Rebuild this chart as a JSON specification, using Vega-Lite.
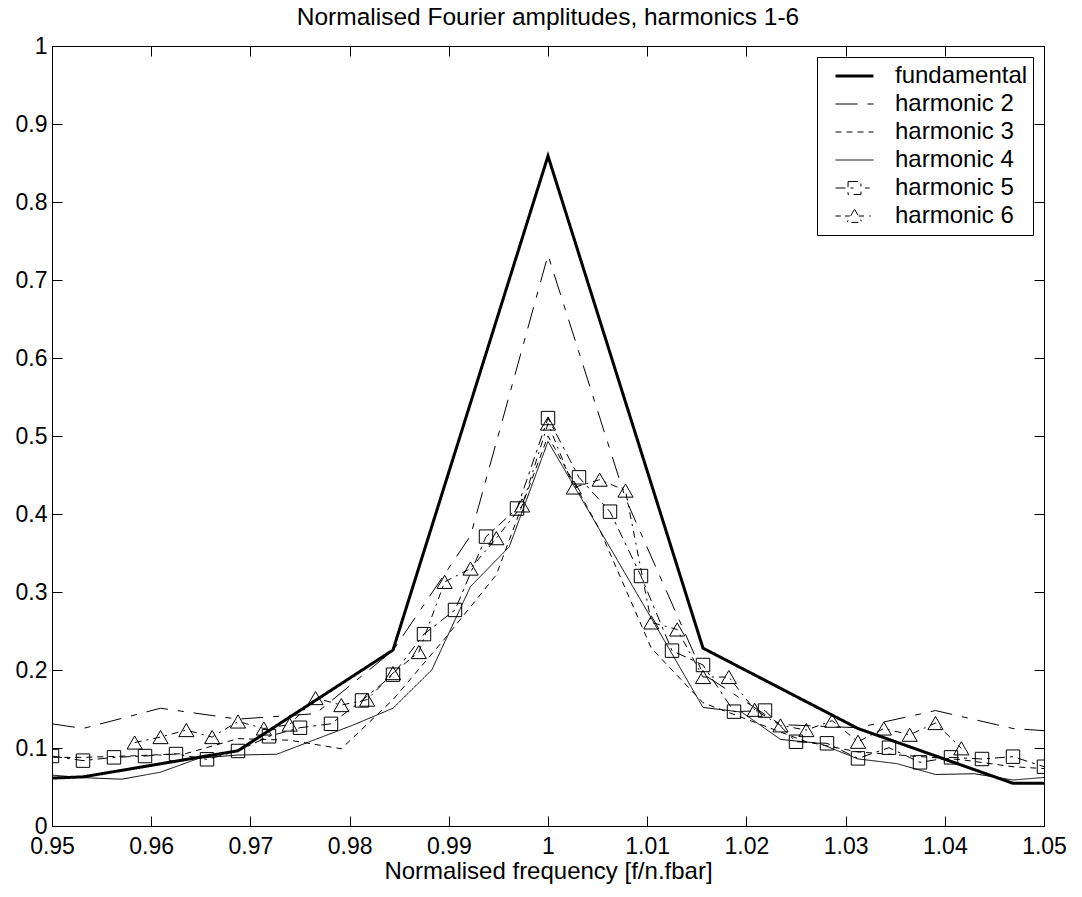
{
  "$schema": "https://vega.github.io/schema/vega-lite/v6.json",
  "width": 992,
  "height": 780,
  "autosize": {"type": "none"},
  "padding": {"left": 52, "top": 46, "right": 38, "bottom": 71},
  "background": "white",
  "title": {"text": "Normalised Fourier amplitudes, harmonics 1-6", "font": "Liberation Sans", "fontSize": 24.5, "fontWeight": "normal", "color": "black", "offset": 5, "anchor": "middle"},
  "data": {"values": [
    {"s": "fundamental", "f": 0.9375, "a": 0.055},
    {"s": "fundamental", "f": 0.953125, "a": 0.063},
    {"s": "fundamental", "f": 0.96875, "a": 0.0965},
    {"s": "fundamental", "f": 0.984375, "a": 0.2256},
    {"s": "fundamental", "f": 1.0, "a": 0.859},
    {"s": "fundamental", "f": 1.015625, "a": 0.228},
    {"s": "fundamental", "f": 1.03125, "a": 0.125},
    {"s": "fundamental", "f": 1.046875, "a": 0.0547},
    {"s": "fundamental", "f": 1.0625, "a": 0.055},

    {"s": "harmonic 2", "f": 0.9453125, "a": 0.14},
    {"s": "harmonic 2", "f": 0.953125, "a": 0.125},
    {"s": "harmonic 2", "f": 0.9609375, "a": 0.151},
    {"s": "harmonic 2", "f": 0.96875, "a": 0.137},
    {"s": "harmonic 2", "f": 0.9765625, "a": 0.144},
    {"s": "harmonic 2", "f": 0.984375, "a": 0.225},
    {"s": "harmonic 2", "f": 0.9921875, "a": 0.372},
    {"s": "harmonic 2", "f": 1.0, "a": 0.732},
    {"s": "harmonic 2", "f": 1.0078125, "a": 0.42},
    {"s": "harmonic 2", "f": 1.015625, "a": 0.195},
    {"s": "harmonic 2", "f": 1.0234375, "a": 0.13},
    {"s": "harmonic 2", "f": 1.03125, "a": 0.126},
    {"s": "harmonic 2", "f": 1.0390625, "a": 0.148},
    {"s": "harmonic 2", "f": 1.046875, "a": 0.125},
    {"s": "harmonic 2", "f": 1.0546875, "a": 0.118},

    {"s": "harmonic 3", "f": 0.947917, "a": 0.088},
    {"s": "harmonic 3", "f": 0.953125, "a": 0.088},
    {"s": "harmonic 3", "f": 0.958333, "a": 0.09},
    {"s": "harmonic 3", "f": 0.963542, "a": 0.093},
    {"s": "harmonic 3", "f": 0.96875, "a": 0.112},
    {"s": "harmonic 3", "f": 0.973958, "a": 0.11},
    {"s": "harmonic 3", "f": 0.979167, "a": 0.099},
    {"s": "harmonic 3", "f": 0.984375, "a": 0.162},
    {"s": "harmonic 3", "f": 0.989583, "a": 0.24},
    {"s": "harmonic 3", "f": 0.994792, "a": 0.322},
    {"s": "harmonic 3", "f": 1.0, "a": 0.5},
    {"s": "harmonic 3", "f": 1.005208, "a": 0.38},
    {"s": "harmonic 3", "f": 1.010417, "a": 0.228},
    {"s": "harmonic 3", "f": 1.015625, "a": 0.158},
    {"s": "harmonic 3", "f": 1.020833, "a": 0.133},
    {"s": "harmonic 3", "f": 1.026042, "a": 0.108},
    {"s": "harmonic 3", "f": 1.03125, "a": 0.095},
    {"s": "harmonic 3", "f": 1.036458, "a": 0.09},
    {"s": "harmonic 3", "f": 1.041667, "a": 0.085},
    {"s": "harmonic 3", "f": 1.046875, "a": 0.076},
    {"s": "harmonic 3", "f": 1.052083, "a": 0.072},

    {"s": "harmonic 4", "f": 0.94921875, "a": 0.066},
    {"s": "harmonic 4", "f": 0.953125, "a": 0.062},
    {"s": "harmonic 4", "f": 0.95703125, "a": 0.06},
    {"s": "harmonic 4", "f": 0.9609375, "a": 0.069},
    {"s": "harmonic 4", "f": 0.96484375, "a": 0.087},
    {"s": "harmonic 4", "f": 0.96875, "a": 0.091},
    {"s": "harmonic 4", "f": 0.97265625, "a": 0.092},
    {"s": "harmonic 4", "f": 0.9765625, "a": 0.111},
    {"s": "harmonic 4", "f": 0.98046875, "a": 0.13},
    {"s": "harmonic 4", "f": 0.984375, "a": 0.151},
    {"s": "harmonic 4", "f": 0.98828125, "a": 0.2},
    {"s": "harmonic 4", "f": 0.9921875, "a": 0.307},
    {"s": "harmonic 4", "f": 0.99609375, "a": 0.358},
    {"s": "harmonic 4", "f": 1.0, "a": 0.493},
    {"s": "harmonic 4", "f": 1.00390625, "a": 0.408},
    {"s": "harmonic 4", "f": 1.0078125, "a": 0.323},
    {"s": "harmonic 4", "f": 1.01171875, "a": 0.238},
    {"s": "harmonic 4", "f": 1.015625, "a": 0.152},
    {"s": "harmonic 4", "f": 1.01953125, "a": 0.146},
    {"s": "harmonic 4", "f": 1.0234375, "a": 0.111},
    {"s": "harmonic 4", "f": 1.02734375, "a": 0.106},
    {"s": "harmonic 4", "f": 1.03125, "a": 0.086},
    {"s": "harmonic 4", "f": 1.03515625, "a": 0.08},
    {"s": "harmonic 4", "f": 1.0390625, "a": 0.066},
    {"s": "harmonic 4", "f": 1.04296875, "a": 0.067},
    {"s": "harmonic 4", "f": 1.046875, "a": 0.059},
    {"s": "harmonic 4", "f": 1.05078125, "a": 0.063},

    {"s": "harmonic 5", "f": 0.95, "a": 0.0897},
    {"s": "harmonic 5", "f": 0.953125, "a": 0.0838},
    {"s": "harmonic 5", "f": 0.95625, "a": 0.088},
    {"s": "harmonic 5", "f": 0.959375, "a": 0.0897},
    {"s": "harmonic 5", "f": 0.9625, "a": 0.0923},
    {"s": "harmonic 5", "f": 0.965625, "a": 0.0855},
    {"s": "harmonic 5", "f": 0.96875, "a": 0.0962},
    {"s": "harmonic 5", "f": 0.971875, "a": 0.115},
    {"s": "harmonic 5", "f": 0.975, "a": 0.126},
    {"s": "harmonic 5", "f": 0.978125, "a": 0.131},
    {"s": "harmonic 5", "f": 0.98125, "a": 0.161},
    {"s": "harmonic 5", "f": 0.984375, "a": 0.194},
    {"s": "harmonic 5", "f": 0.9875, "a": 0.246},
    {"s": "harmonic 5", "f": 0.990625, "a": 0.277},
    {"s": "harmonic 5", "f": 0.99375, "a": 0.371},
    {"s": "harmonic 5", "f": 0.996875, "a": 0.407},
    {"s": "harmonic 5", "f": 1.0, "a": 0.523},
    {"s": "harmonic 5", "f": 1.003125, "a": 0.447},
    {"s": "harmonic 5", "f": 1.00625, "a": 0.403},
    {"s": "harmonic 5", "f": 1.009375, "a": 0.3205},
    {"s": "harmonic 5", "f": 1.0125, "a": 0.2248},
    {"s": "harmonic 5", "f": 1.015625, "a": 0.2064},
    {"s": "harmonic 5", "f": 1.01875, "a": 0.1466},
    {"s": "harmonic 5", "f": 1.021875, "a": 0.148},
    {"s": "harmonic 5", "f": 1.025, "a": 0.108},
    {"s": "harmonic 5", "f": 1.028125, "a": 0.106},
    {"s": "harmonic 5", "f": 1.03125, "a": 0.0867},
    {"s": "harmonic 5", "f": 1.034375, "a": 0.1004},
    {"s": "harmonic 5", "f": 1.0375, "a": 0.0816},
    {"s": "harmonic 5", "f": 1.040625, "a": 0.088},
    {"s": "harmonic 5", "f": 1.04375, "a": 0.0859},
    {"s": "harmonic 5", "f": 1.046875, "a": 0.0889},
    {"s": "harmonic 5", "f": 1.05, "a": 0.076},

    {"s": "harmonic 6", "f": 0.958333, "a": 0.107},
    {"s": "harmonic 6", "f": 0.960938, "a": 0.114},
    {"s": "harmonic 6", "f": 0.963542, "a": 0.123},
    {"s": "harmonic 6", "f": 0.966146, "a": 0.114},
    {"s": "harmonic 6", "f": 0.96875, "a": 0.134},
    {"s": "harmonic 6", "f": 0.971354, "a": 0.125},
    {"s": "harmonic 6", "f": 0.973958, "a": 0.13},
    {"s": "harmonic 6", "f": 0.976563, "a": 0.164},
    {"s": "harmonic 6", "f": 0.979167, "a": 0.155},
    {"s": "harmonic 6", "f": 0.981771, "a": 0.162},
    {"s": "harmonic 6", "f": 0.984375, "a": 0.196},
    {"s": "harmonic 6", "f": 0.986979, "a": 0.223},
    {"s": "harmonic 6", "f": 0.989583, "a": 0.313},
    {"s": "harmonic 6", "f": 0.992188, "a": 0.33},
    {"s": "harmonic 6", "f": 0.994792, "a": 0.369},
    {"s": "harmonic 6", "f": 0.997396, "a": 0.411},
    {"s": "harmonic 6", "f": 1.0, "a": 0.516},
    {"s": "harmonic 6", "f": 1.002604, "a": 0.434},
    {"s": "harmonic 6", "f": 1.005208, "a": 0.444},
    {"s": "harmonic 6", "f": 1.007813, "a": 0.43},
    {"s": "harmonic 6", "f": 1.010417, "a": 0.261},
    {"s": "harmonic 6", "f": 1.013021, "a": 0.252},
    {"s": "harmonic 6", "f": 1.015625, "a": 0.191},
    {"s": "harmonic 6", "f": 1.018229, "a": 0.191},
    {"s": "harmonic 6", "f": 1.020833, "a": 0.149},
    {"s": "harmonic 6", "f": 1.023438, "a": 0.129},
    {"s": "harmonic 6", "f": 1.026042, "a": 0.123},
    {"s": "harmonic 6", "f": 1.028646, "a": 0.135},
    {"s": "harmonic 6", "f": 1.03125, "a": 0.108},
    {"s": "harmonic 6", "f": 1.033854, "a": 0.125},
    {"s": "harmonic 6", "f": 1.036458, "a": 0.117},
    {"s": "harmonic 6", "f": 1.039063, "a": 0.132},
    {"s": "harmonic 6", "f": 1.041667, "a": 0.0996}
  ]},
  "layer": [
    {
      "mark": {"type": "line", "clip": true, "color": "black"},
      "encoding": {
        "x": {"field": "f", "type": "quantitative", "scale": {"domain": [0.95, 1.05], "nice": false, "zero": false},
          "axis": {"orient": "bottom", "values": [0.95, 0.96, 0.97, 0.98, 0.99, 1, 1.01, 1.02, 1.03, 1.04, 1.05], "labelExpr": "format(datum.value, '~g')", "title": "Normalised frequency [f/n.fbar]", "titleFontSize": 24, "tickSize": -10, "labelPadding": 19, "titlePadding": 1}},
        "y": {"field": "a", "type": "quantitative", "scale": {"domain": [0, 1], "nice": false},
          "axis": {"orient": "left", "values": [0, 0.1, 0.2, 0.3, 0.4, 0.5, 0.6, 0.7, 0.8, 0.9, 1], "labelExpr": "format(datum.value, '~g')", "title": null, "tickSize": -10, "labelPadding": 15}},
        "strokeDash": {"field": "s", "type": "nominal",
          "scale": {"domain": ["fundamental", "harmonic 2", "harmonic 3", "harmonic 4", "harmonic 5", "harmonic 6"],
                    "range": [[1, 0], [22, 10, 6, 10], [6, 5], [1, 0], [10, 5, 3, 5], [7, 5, 2, 5]]},
          "legend": {"title": null, "orient": "top-right", "offset": 11,
            "encode": {"symbols": {"update": {
              "shape": {"signal": "datum.value === 'harmonic 5' ? 'M-1,0H0.05M-0.34,-0.34H0.34V0.34H-0.34ZM0.55,0H0.8' : datum.value === 'harmonic 6' ? 'M-1,0H-0.72M-0.5,0H-0.25M0,-0.36L0.4,0.34H-0.4ZM0.22,0H0.5M0.78,0H0.86' : 'stroke'"},
              "strokeDash": {"signal": "datum.value === 'harmonic 5' || datum.value === 'harmonic 6' ? [1, 0] : scale('strokeDash', datum.value)"},
              "strokeWidth": {"signal": "datum.value === 'fundamental' ? 3 : 1"},
              "stroke": {"value": "black"},
              "fill": {"value": "transparent"}
            }}}}},
        "strokeWidth": {"field": "s", "type": "nominal",
          "scale": {"type": "ordinal", "domain": ["fundamental", "harmonic 2", "harmonic 3", "harmonic 4", "harmonic 5", "harmonic 6"], "range": [3, 1, 1, 1, 1, 1]},
          "legend": null}
      }
    },
    {
      "transform": [{"filter": {"field": "s", "equal": "harmonic 5"}}],
      "mark": {"type": "point", "shape": "square", "size": 180, "filled": false, "stroke": "black", "strokeWidth": 1, "opacity": 1, "clip": true},
      "encoding": {
        "x": {"field": "f", "type": "quantitative", "axis": {"orient": "top", "values": [0.95, 0.96, 0.97, 0.98, 0.99, 1, 1.01, 1.02, 1.03, 1.04, 1.05], "labels": false, "title": null, "tickSize": -10}},
        "y": {"field": "a", "type": "quantitative", "axis": {"orient": "right", "values": [0, 0.1, 0.2, 0.3, 0.4, 0.5, 0.6, 0.7, 0.8, 0.9, 1], "labels": false, "title": null, "tickSize": -10}}
      }
    },
    {
      "transform": [{"filter": {"field": "s", "equal": "harmonic 6"}}],
      "mark": {"type": "point", "shape": "triangle-up", "size": 230, "filled": false, "stroke": "black", "strokeWidth": 1, "opacity": 1, "clip": true},
      "encoding": {
        "x": {"field": "f", "type": "quantitative", "axis": null},
        "y": {"field": "a", "type": "quantitative", "axis": null}
      }
    }
  ],
  "resolve": {"axis": {"x": "independent", "y": "independent"}},
  "config": {
    "font": "Liberation Sans",
    "view": {"stroke": "black", "strokeWidth": 1},
    "axis": {"grid": false, "domain": true, "domainColor": "black", "tickColor": "black", "labelColor": "black", "titleColor": "black",
      "labelFont": "Liberation Sans", "labelFontSize": 23, "titleFont": "Liberation Sans", "titleFontSize": 24, "titleFontWeight": "normal", "labelFlush": false, "labelOverlap": false},
    "legend": {"strokeColor": "black", "fillColor": "white", "padding": 5, "symbolOffset": 12, "labelFont": "Liberation Sans", "labelFontSize": 24, "labelColor": "black",
      "symbolSize": 1444, "symbolType": "stroke", "symbolStrokeColor": "black", "labelOffset": 20, "rowPadding": 0, "clipHeight": 28, "symbolFillColor": "transparent"}
  }
}
